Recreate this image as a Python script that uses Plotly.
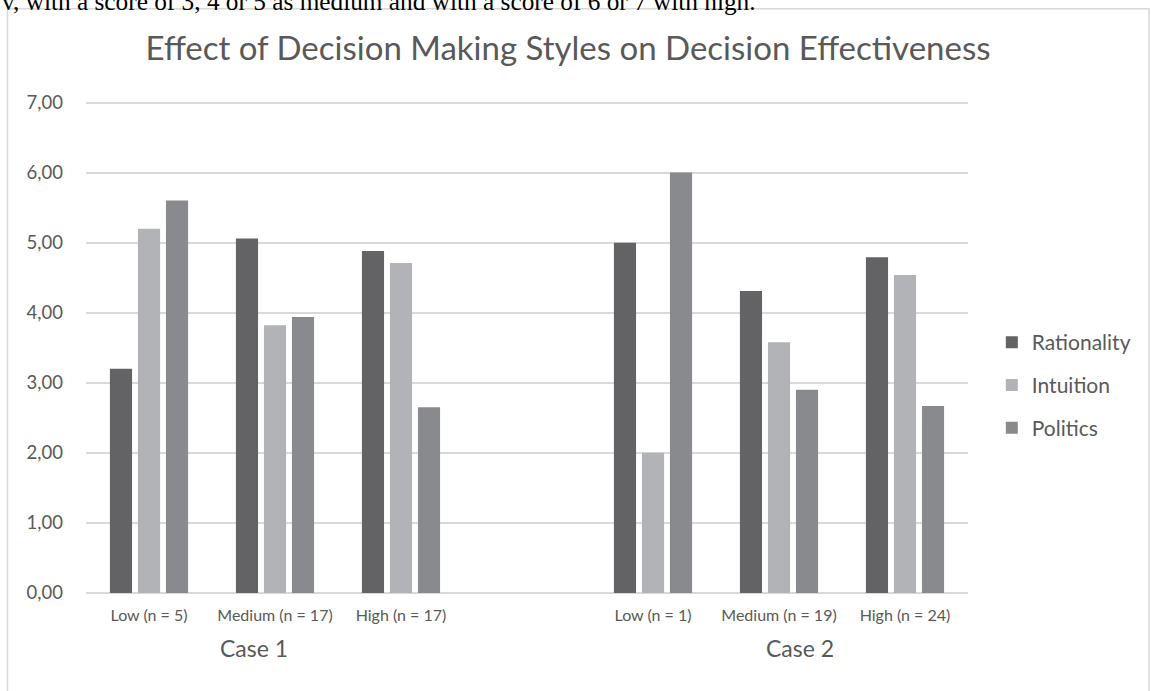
import plotly.graph_objects as go

categories = ["Low (n = 5)", "Medium (n = 17)", "High (n = 17)", "",
              "Low (n = 1)", "Medium (n = 19)", "High (n = 24)"]
positions = [0, 1, 2, 4, 5, 6]
bar_labels = ["Low (n = 5)", "Medium (n = 17)", "High (n = 17)",
              "Low (n = 1)", "Medium (n = 19)", "High (n = 24)"]
rationality = [3.20, 5.06, 4.88, 5.00, 4.31, 4.79]
intuition = [5.20, 3.82, 4.71, 2.00, 3.58, 4.54]
politics = [5.60, 3.94, 2.65, 6.00, 2.90, 2.67]
series_names = ["Rationality", "Intuition", "Politics"]
series_colors = ["#636365", "#b2b3b6", "#898a8e"]
groups = ["Case 1", "Case 2"]
group_pos = [0.83, 5.17]
y_ticks = [0, 1, 2, 3, 4, 5, 6, 7]
title = "Effect of Decision Making Styles on Decision Effectiveness"
top_text = "v, with a score of 3, 4 or 5 as medium and with a score of 6 or 7 with high."

FONT = "Lato, 'Open Sans', sans-serif"
TXT = "#595959"

Y_MAX = 7.05
T_MARGIN = 592.7 - 70 * Y_MAX
H_PLOT = 70 * Y_MAX

fig = go.Figure()
for name, vals, col in zip(series_names, [rationality, intuition, politics], series_colors):
    fig.add_trace(go.Bar(x=positions, y=vals, name=name, marker_color=col,
                         marker_line_width=0, hovertext=bar_labels,
                         legendgroup=name))

fig.update_layout(
    width=1151, height=691,
    margin=dict(l=86, r=183, t=T_MARGIN, b=691 - 592.7),
    paper_bgcolor="white", plot_bgcolor="white",
    barmode="group", bargap=0.333, bargroupgap=0.21,
    separators=",.",
    font=dict(family=FONT, color=TXT),
    title=dict(text=title, x=568 / 1151, xref="container", xanchor="center",
               y=0.930, yanchor="middle",
               font=dict(size=33, color=TXT, family=FONT)),
    legend=dict(x=1.027, y=(592.7 - 385) / H_PLOT, xanchor="left", yanchor="middle",
                font=dict(size=21, color=TXT), tracegroupgap=12.5,
                traceorder="grouped", itemwidth=30,
                bgcolor="rgba(0,0,0,0)"),
    xaxis=dict(range=[-0.5, 6.5], tickmode="array", tickvals=list(range(7)),
               ticktext=categories, tickfont=dict(size=16, color=TXT),
               showgrid=False, zeroline=False, showline=False, ticks="",
               ticklabelstandoff=11, fixedrange=True),
    yaxis=dict(range=[0, Y_MAX], tickvals=y_ticks, tickformat=".2f",
               tickfont=dict(size=18.5, color=TXT), showgrid=True,
               gridcolor="#d9d9d9", gridwidth=1.5, zeroline=True,
               zerolinecolor="#d9d9d9", zerolinewidth=2, showline=False,
               ticks="", ticklabelstandoff=22),
)

for g, p in zip(groups, group_pos):
    fig.add_annotation(text=g, x=p, xref="x", y=(592.7 - 648) / H_PLOT, yref="paper",
                       showarrow=False, font=dict(size=23, color=TXT),
                       xanchor="center", yanchor="middle")

# chart-area border
fig.add_shape(type="rect", xref="paper", yref="paper",
              x0=(7.5 - 86) / 882, x1=(1149 - 86) / 882,
              y0=(592.7 - 720) / H_PLOT, y1=(592.7 - 9) / H_PLOT,
              line=dict(color="#d9d9d9", width=1.5), fillcolor="rgba(0,0,0,0)",
              layer="below")

fig.add_annotation(text=top_text, xref="paper", yref="paper",
                   x=(0 - 86) / 882, y=(592.7 - 17) / H_PLOT,
                   xanchor="left", yanchor="bottom", showarrow=False,
                   font=dict(family="Liberation Serif, serif", size=25.3, color="#000000"))

fig.write_html("out.html")
